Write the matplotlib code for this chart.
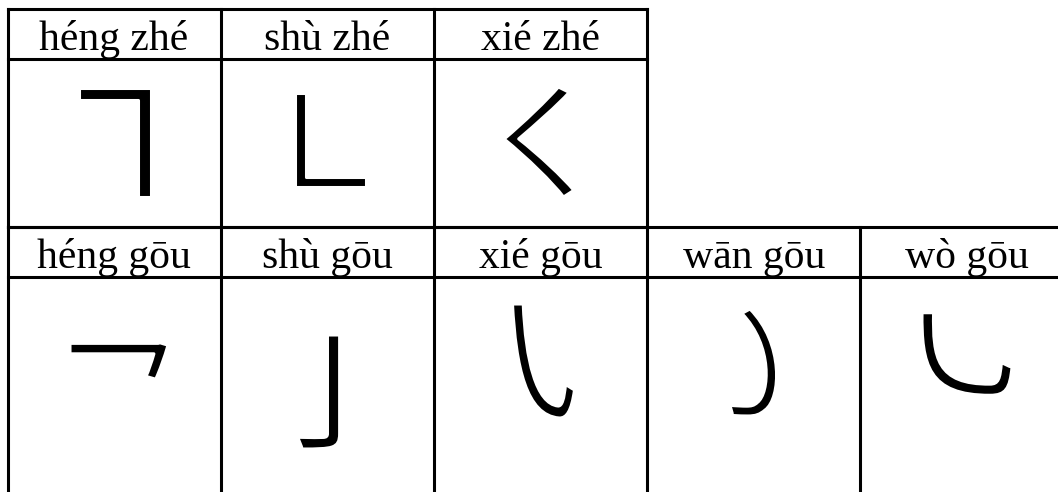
import matplotlib
matplotlib.use('Agg')
import matplotlib.pyplot as plt
from matplotlib.font_manager import FontProperties
from matplotlib.textpath import TextPath
import matplotlib.patheffects as pe

# stroke names (pinyin) and the stroke characters, one list per table row
top_labels = ['héng zhé', 'shù zhé', 'xié zhé']
top_strokes = ['\u31D5', '\u31D7', '\u31DB']
bottom_labels = ['héng gōu', 'shù gōu', 'xié gōu', 'wān gōu', 'wò gōu']
bottom_strokes = ['\u31D6', '\u31DA', '\u31C2', '\u31C1', '\u31C3']

# where each stroke sits in its cell (pixel box x0, x1, y0, y1)
top_boxes = [(67, 163, 88, 197), (303, 358, 93, 187), (516, 562, 87, 197)]
bottom_boxes = [(70, 168, 351, 371), (306, 331, 335, 449), (519, 568, 304, 418),
                (739, 767, 309, 416), (922, 1012, 328, 380)]

W, H = 1058, 492
fig = plt.figure(figsize=(W / 100, H / 100), dpi=100)
ax = fig.add_axes([0, 0, 1, 1])
ax.set_xlim(0, W)
ax.set_ylim(H, 0)
ax.axis('off')

cjk = FontProperties(family='Noto Sans CJK SC')
x0, cw = 7.5, 213.2   # left edge, column width
lw = 2.2


def put_stroke(s, box):
    bx0, bx1, by0, by1 = box
    ext = TextPath((0, 0), s, size=100, prop=cjk).get_extents()
    tw, th = bx1 - bx0, by1 - by0
    # fit the longer side of the target box
    if tw > th:
        fs = tw * 72 / ext.width
    else:
        fs = th * 72 / ext.height
    k = fs / 72  # px per TextPath unit
    cx, cy = (bx0 + bx1) / 2, (by0 + by1) / 2
    gx = cx - (ext.x0 + ext.width / 2) * k
    gy = cy + (ext.y0 + ext.height / 2) * k
    # white outline over the black fill thins the sans strokes a little
    ax.text(gx, gy, s, ha='left', va='baseline', fontsize=fs,
            family=['Noto Sans CJK SC', 'DejaVu Sans'],
            path_effects=[pe.Stroke(linewidth=2.2, foreground='white')])


def draw_row(labels, strokes, boxes, top, head_h, body_h, bottom_open=False):
    n = len(labels)
    right = x0 + n * cw
    ys = [top, top + head_h] + ([] if bottom_open else [top + head_h + body_h])
    for y in ys:
        ax.plot([x0, min(right, W + 5)], [y, y], color='black', lw=lw, solid_capstyle='projecting')
    for i in range(n + 1):
        x = x0 + i * cw
        ax.plot([x, x], [top, top + head_h + body_h], color='black', lw=lw)
    for i, (lab, s, b) in enumerate(zip(labels, strokes, boxes)):
        cx = x0 + (i + 0.5) * cw
        ax.text(cx, top + 41, lab, ha='center', va='baseline',
                fontsize=30, family='Liberation Serif')
        put_stroke(s, b)


draw_row(top_labels, top_strokes, top_boxes, 9, 50, 168)
draw_row(bottom_labels, bottom_strokes, bottom_boxes, 227, 50, 280, bottom_open=True)

fig.savefig('out.png', dpi=100)
